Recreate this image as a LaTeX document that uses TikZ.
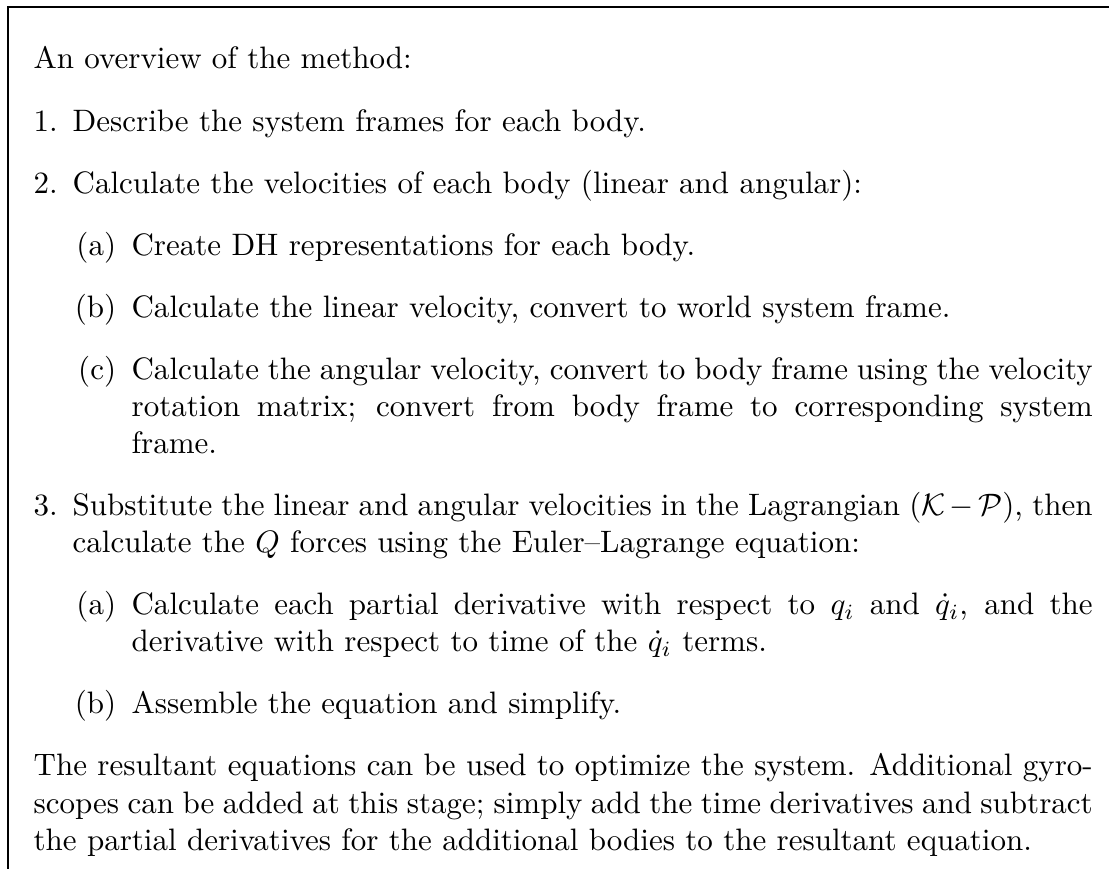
\documentclass[tikz,border=0pt]{standalone}
\usepackage{amsmath}
\usepackage{enumitem}
\setlist{topsep=8pt,itemsep=8pt,parsep=0pt,partopsep=0pt}
\setlist[enumerate,1]{leftmargin=12.6pt,labelsep=4.8pt,label=\arabic*.}
\setlist[enumerate,2]{leftmargin=19pt,labelsep=5pt,label=(\alph*)}
\begin{document}
\begin{tikzpicture}[x=1pt,y=1pt,
  frameline/.style={draw=black,line width=0.5pt},
  body/.style={anchor=base west,inner sep=0pt,text width=341.6pt,align=justify,font=\normalsize}]
\useasboundingbox (0,0) rectangle (357.7,280);
\coordinate (bl) at (2.58,-20);
\coordinate (tr) at (380,277.7);
\draw[frameline] (bl) rectangle (tr);
\node[body] (txt) at (10.65,257.74) {\parskip=0pt An overview of the method:
\begin{enumerate}
\item Describe the system frames for each body.
\item Calculate the velocities of each body (linear and angular):
 \begin{enumerate}
 \item Create DH representations for each body.
 \item Calculate the linear velocity, convert to world system frame.
 \item Calculate the angular velocity, convert to body frame using the velocity\linebreak rotation matrix; convert from body frame to corresponding system\linebreak frame.
 \end{enumerate}
\item Substitute the linear and angular velocities in the Lagrangian $(\mathcal{K}-\mathcal{P})$, then calculate the $Q$ forces using the Euler--Lagrange equation:
 \begin{enumerate}
 \item Calculate each partial derivative with respect to $q_i$ and $\dot{q}_i$, and the derivative with respect to time of the $\dot{q}_i$ terms.
 \item Assemble the equation and simplify.
 \end{enumerate}
\end{enumerate}
The resultant equations can be used to optimize the system. Additional gyroscopes can be added at this stage; simply add the time derivatives and subtract the partial derivatives for the additional bodies to the resultant equation.};
\end{tikzpicture}
\end{document}
